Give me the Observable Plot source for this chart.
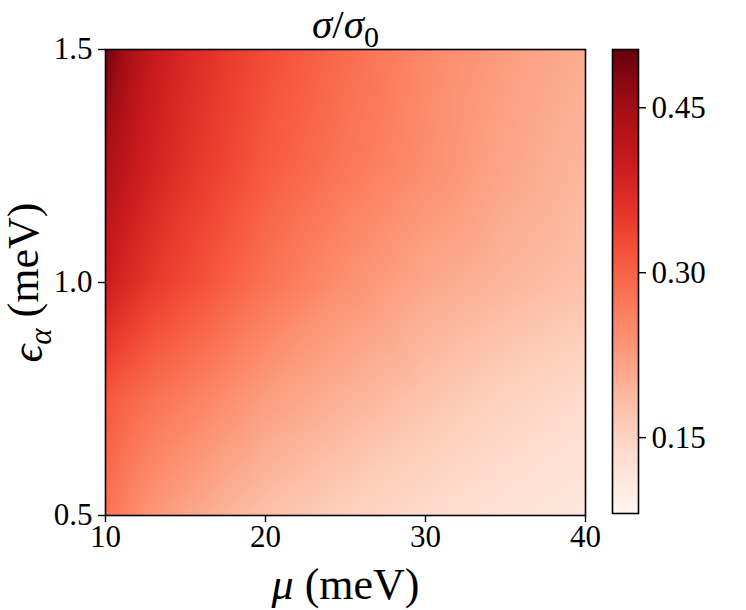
<!DOCTYPE html>
<html>
<head>
<meta charset="utf-8">
<script src="https://cdn.jsdelivr.net/npm/d3@7"></script>
<script src="https://cdn.jsdelivr.net/npm/@observablehq/plot@0.6"></script>
<style>
  html, body { margin: 0; padding: 0; background: #fff; }
  #wrap { position: relative; width: 746px; height: 610px; }
  #wrap svg { position: absolute; left: 0; top: 0; background: transparent; }
</style>
</head>
<body>
<div id="wrap"></div>
<script>
// chemical potential μ (meV)
const mu = [10, 11, 12, 13, 15, 17.5, 20, 25, 30, 35, 40];
// ε_α (meV)
const eps = [0.5, 0.75, 1.0, 1.25, 1.5];
// σ/σ0 per ε row (values along mu)
const row050 = [0.280, 0.262, 0.245, 0.232, 0.215, 0.195, 0.178, 0.155, 0.138, 0.125, 0.115];
const row075 = [0.315, 0.300, 0.290, 0.280, 0.265, 0.245, 0.225, 0.198, 0.174, 0.153, 0.138];
const row100 = [0.397, 0.380, 0.365, 0.350, 0.330, 0.305, 0.280, 0.242, 0.212, 0.193, 0.176];
const row125 = [0.435, 0.420, 0.400, 0.385, 0.360, 0.335, 0.310, 0.275, 0.245, 0.215, 0.192];
const row150 = [0.495, 0.457, 0.427, 0.405, 0.376, 0.350, 0.326, 0.288, 0.252, 0.226, 0.205];
const rows = [row050, row075, row100, row125, row150];
// colour range & colorbar ticks
const cDomain = [0.081, 0.503];
const cTicks = [0.15, 0.30, 0.45];
const xTicks = [10, 20, 30, 40];
const yTicks = [0.5, 1.0, 1.5];

const points = [];
eps.forEach((e, j) => mu.forEach((m, i) => points.push({mu: m, eps: e, v: rows[j][i]})));

const FONT = "Liberation Serif";
const LABEL_FS = 44;
const color = {type: "linear", scheme: "reds", domain: cDomain};

const main = Plot.plot({
  width: 746, height: 610,
  marginLeft: 105, marginRight: 161, marginTop: 49, marginBottom: 95,
  style: {fontFamily: FONT, background: "transparent", overflow: "visible"},
  x: {domain: [10, 40], ticks: xTicks, tickSize: 7, tickPadding: 2, label: null},
  y: {domain: [0.5, 1.5], ticks: yTicks, tickFormat: ".1f", tickSize: 7, tickPadding: 6, label: null},
  color,
  marks: [
    Plot.raster(points, {x: "mu", y: "eps", fill: "v", interpolate: "barycentric", pixelSize: 1}),
    Plot.frame({stroke: "#000", strokeWidth: 1.6}),
    Plot.text(["TITLE_PH"], {frameAnchor: "top", lineAnchor: "middle", dy: -25, fontSize: 41, fill: "#000"}),
    Plot.text(["XLAB_PH"], {frameAnchor: "bottom", lineAnchor: "middle", dy: 69, fontSize: LABEL_FS, fill: "#000"}),
    Plot.text(["YLAB_PH"], {frameAnchor: "left", lineAnchor: "middle", textAnchor: "middle", dx: -78, rotate: -90, fontSize: LABEL_FS, fill: "#000"})
  ]
});

const cbar = Plot.plot({
  width: 746, height: 610,
  marginLeft: 612, marginRight: 108, marginTop: 49, marginBottom: 97,
  style: {fontFamily: FONT, background: "transparent", overflow: "visible"},
  x: {domain: [0, 1], axis: null},
  y: {domain: cDomain, axis: "right", ticks: cTicks, tickFormat: ".2f", tickSize: 7, tickPadding: 6, label: null},
  color,
  marks: [
    Plot.raster({fill: (x, y) => y, x1: 0, x2: 1, y1: cDomain[0], y2: cDomain[1], pixelSize: 1}),
    Plot.frame({stroke: "#000", strokeWidth: 1.6})
  ]
});

const wrap = document.getElementById("wrap");
wrap.appendChild(main);
wrap.appendChild(cbar);

// tick styling: black, thicker, larger labels
d3.selectAll("#wrap svg g[aria-label$='tick'] path, #wrap svg g[aria-label$='tick'] line")
  .attr("stroke", "#000").attr("stroke-width", 1.4);
d3.selectAll("#wrap svg g[aria-label$='tick label']")
  .style("font-size", "31px").attr("fill", "#000");
d3.selectAll("#wrap svg g[aria-label$='tick label'] text")
  .style("font-size", "31px");

function setParts(ph, parts) {
  const t = d3.select(main).selectAll("text").filter(function () { return this.textContent === ph; });
  t.text(null);
  parts.forEach(p => {
    const s = t.append("tspan").text(p.text);
    if (p.italic) s.attr("font-style", "italic");
    if (p.dy) s.attr("dy", p.dy);
    if (p.size) s.attr("font-size", p.size);
  });
}
setParts("TITLE_PH", [
  {text: "σ", italic: true}, {text: "/"}, {text: "σ", italic: true},
  {text: "0", dy: "0.3em", size: 30}
]);
setParts("XLAB_PH", [{text: "μ", italic: true}, {text: " (meV)"}]);
setParts("YLAB_PH", [
  {text: "ϵ", italic: true}, {text: "α", italic: true, dy: "0.3em", size: 31},
  {text: " (meV)", dy: "-0.3em"}
]);
</script>
</body>
</html>
